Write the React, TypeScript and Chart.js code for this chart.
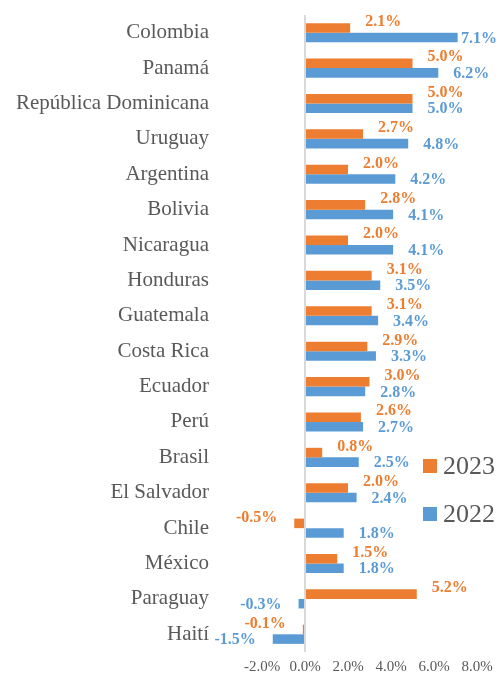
import React, { useEffect, useRef } from "react";
import { Chart, registerables } from "chart.js";

Chart.register(...registerables);

const categories = [
  "Colombia",
  "Panamá",
  "República Dominicana",
  "Uruguay",
  "Argentina",
  "Bolivia",
  "Nicaragua",
  "Honduras",
  "Guatemala",
  "Costa Rica",
  "Ecuador",
  "Perú",
  "Brasil",
  "El Salvador",
  "Chile",
  "México",
  "Paraguay",
  "Haití",
];

const values2023 = [2.1, 5.0, 5.0, 2.7, 2.0, 2.8, 2.0, 3.1, 3.1, 2.9, 3.0, 2.6, 0.8, 2.0, -0.5, 1.5, 5.2, -0.1];
const values2022 = [7.1, 6.2, 5.0, 4.8, 4.2, 4.1, 4.1, 3.5, 3.4, 3.3, 2.8, 2.7, 2.5, 2.4, 1.8, 1.8, -0.3, -1.5];

const seriesNames = ["2023", "2022"];
const xMin = -2;
const xMax = 8;
const xStep = 2;

const ORANGE = "#ED7D31";
const BLUE = "#5B9BD5";
const TEXT = "#595959";
const FONT = "'Liberation Serif', 'Times New Roman', serif";

const labelPlugin = {
  id: "barLabelsAndLegend",
  afterDatasetsDraw(chart: any) {
    const ctx = chart.ctx as CanvasRenderingContext2D;
    ctx.save();
    ctx.font = `bold 16px ${FONT}`;
    ctx.textBaseline = "middle";
    ctx.textAlign = "left";
    chart.data.datasets.forEach((ds: any, di: number) => {
      const meta = chart.getDatasetMeta(di);
      const dy = di === 0 ? -6 : 1;
      ctx.fillStyle = ds.backgroundColor;
      meta.data.forEach((el: any, i: number) => {
        const v = ds.data[i] as number;
        const text = v.toFixed(1) + "%";
        const w = ctx.measureText(text).width;
        let x: number;
        if (v >= 0) {
          x = Math.min(el.x + 15, chart.width - 3 - w);
        } else {
          x = el.x - 17 - w;
        }
        ctx.fillText(text, x, el.y + dy);
      });
    });

    // legend
    ctx.font = `26px ${FONT}`;
    ctx.textBaseline = "middle";
    const items = [
      { name: seriesNames[0], color: ORANGE, y: 466 },
      { name: seriesNames[1], color: BLUE, y: 514 },
    ];
    items.forEach((it) => {
      ctx.fillStyle = it.color;
      ctx.fillRect(423, it.y - 7, 14, 14);
      ctx.fillStyle = TEXT;
      ctx.fillText(it.name, 443, it.y + 1);
    });
    ctx.restore();
  },
};

export default function App() {
  const canvasRef = useRef<HTMLCanvasElement | null>(null);

  useEffect(() => {
    if (!canvasRef.current) return;
    const chart = new Chart(canvasRef.current, {
      type: "bar",
      data: {
        labels: categories,
        datasets: [
          {
            label: seriesNames[0],
            data: values2023,
            backgroundColor: ORANGE,
            categoryPercentage: 0.54,
            barPercentage: 1,
          },
          {
            label: seriesNames[1],
            data: values2022,
            backgroundColor: BLUE,
            categoryPercentage: 0.54,
            barPercentage: 1,
          },
        ],
      },
      options: {
        indexAxis: "y",
        responsive: false,
        animation: false,
        layout: { padding: { top: 15, bottom: 1, left: 0, right: 23 } },
        plugins: {
          legend: { display: false },
          tooltip: { enabled: false },
        },
        scales: {
          x: {
            type: "linear",
            min: xMin,
            max: xMax,
            ticks: {
              stepSize: xStep,
              callback: (v: any) => Number(v).toFixed(1) + "%",
              font: { family: FONT, size: 15 },
              color: TEXT,
              padding: 6,
              maxRotation: 0,
            },
            grid: {
              drawTicks: false,
              lineWidth: 2,
              color: (c: any) => (c.tick && c.tick.value === 0 ? "#D9D9D9" : "rgba(0,0,0,0)"),
            },
            border: { display: false },
            afterFit: (scale: any) => {
              scale.height = 24;
              scale.paddingLeft = 0;
              scale.paddingRight = 0;
            },
          },
          y: {
            type: "category",
            ticks: {
              font: { family: FONT, size: 21 },
              color: TEXT,
              padding: 53,
            },
            grid: { display: false, drawTicks: false },
            border: { display: false },
            afterFit: (scale: any) => {
              scale.width = 262;
              scale.paddingTop = 0;
              scale.paddingBottom = 0;
            },
          },
        },
      },
      plugins: [labelPlugin],
    } as any);
    return () => chart.destroy();
  }, []);

  return (
    <div style={{ position: "fixed", left: 0, top: 0, width: 500, height: 677, background: "#fff" }}>
      <canvas ref={canvasRef} width={500} height={677} />
    </div>
  );
}
